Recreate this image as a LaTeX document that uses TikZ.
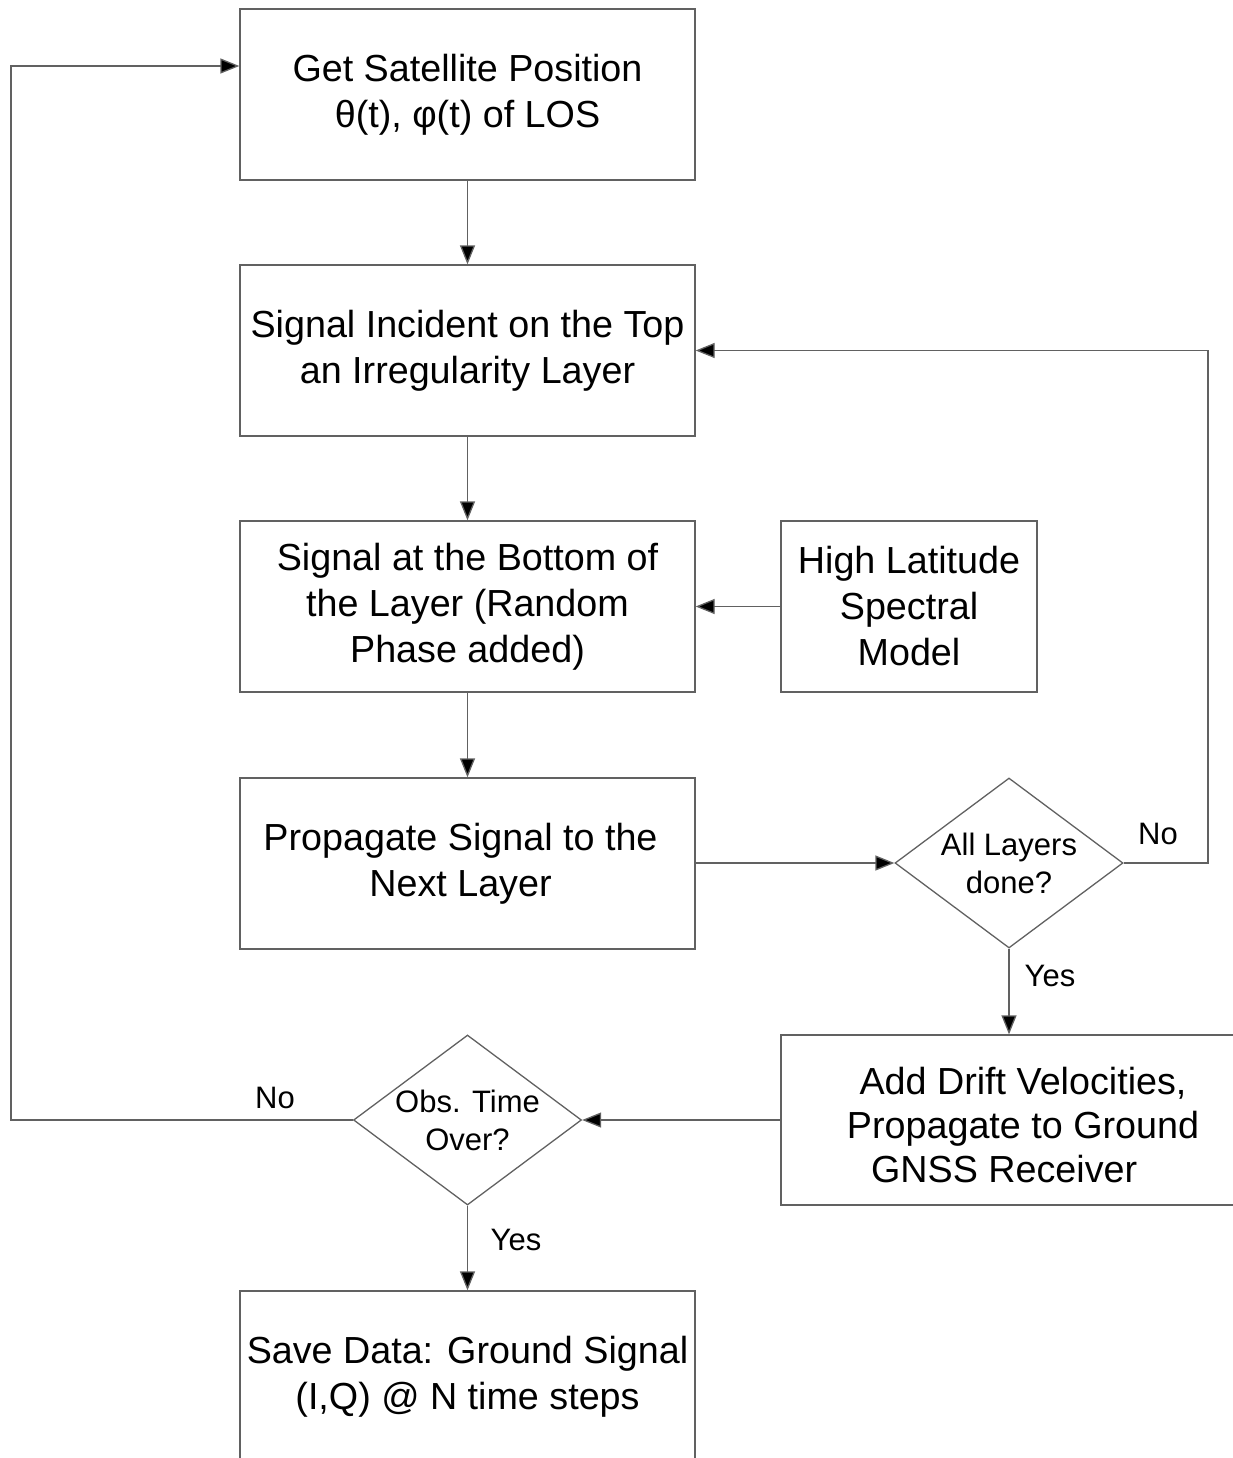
\documentclass[tikz,border=0pt]{standalone}
\usepackage{fontspec}
\setmainfont{Liberation Sans}
\usetikzlibrary{arrows.meta,shapes.geometric}
\begin{document}
\begin{tikzpicture}[x=1pt,y=-1pt,
  line width=1.3pt,
  wire/.style={draw=black!62},
  flow/.style={wire,-{Triangle[length=19pt,width=15pt,fill=black]}},
  stepbox/.style={draw=black!62,rectangle,minimum width=455pt,minimum height=171pt,
    inner sep=0pt,align=center,font=\fontsize{37.7}{46}\selectfont},
  decision/.style={draw=black!62,diamond,minimum width=228pt,minimum height=170pt,inner sep=0pt},
  dtext/.style={align=center,font=\fontsize{31}{38}\selectfont},
  tag/.style={font=\fontsize{31}{38}\selectfont}]
\useasboundingbox (0,0) rectangle (1233,1458);
\clip (0,0) rectangle (1233,1458);

% process boxes
\node[stepbox] (sat) at (467.5,94.5) {Get Satellite Position\\θ(t), φ(t) of LOS};
\node[stepbox] (top) at (467.5,350.5) {Signal Incident on the Top\\an Irregularity Layer};
\node[stepbox] (bot) at (467.5,606.5) {Signal at the Bottom of\\the Layer (Random\\Phase added)};
\node[stepbox,minimum width=256pt] (hlm) at (909,606.5) {High Latitude\\Spectral\\Model};
\node[stepbox] (prop) at (467.5,863.5)
  {Propagate Signal to the\hspace*{14pt}\\Next Layer\hspace*{14pt}};
\node[stepbox,minimum width=484pt,minimum height=170pt,
  font=\fontsize{37.7}{44}\selectfont] (drift) at (1023,1120)
  {\rule{0pt}{38pt}Add Drift Velocities,\\Propagate to Ground\\GNSS Receiver\hspace*{1em}};
\node[stepbox] (save) at (467.5,1376.5) {Save Data: Ground Signal\\(I,Q) @ N time steps};

% decisions
\node[decision] (layers) at (1009,863) {};
\node[dtext] at (layers) {All Layers\\done?};
\node[decision] (obs) at (467.5,1120) {};
\node[dtext] at (obs) {Obs. Time\\Over?};

% loop corner points
\coordinate (rtop) at (1208,350.5);
\coordinate (rbot) at (1208,863);
\coordinate (lbot) at (11,1120);
\coordinate (ltop) at (11,66);

% main chain
\draw[flow] (sat) -- (top);
\draw[flow] (top) -- (bot);
\draw[flow] (bot) -- (prop);
\draw[flow] (hlm) -- (bot);
\draw[flow] (prop.east |- layers.west) -- (layers.west);
\draw[flow] (layers.south) -- (drift.north -| layers.south);
\draw[flow] (drift.west) -- (obs.east);
\draw[flow] (obs.south) -- (save);

% feedback loops
\draw[flow] (layers.east) -- (rbot) -- (rtop) -- (top.east);
\draw[flow] (obs.west) -- (lbot) -- (ltop) -- (ltop -| sat.west);

% branch labels
\node[tag] at (1158,834) {No};
\node[tag] at (1050,976) {Yes};
\node[tag] at (275,1098) {No};
\node[tag] at (516,1240) {Yes};
\end{tikzpicture}
\end{document}
